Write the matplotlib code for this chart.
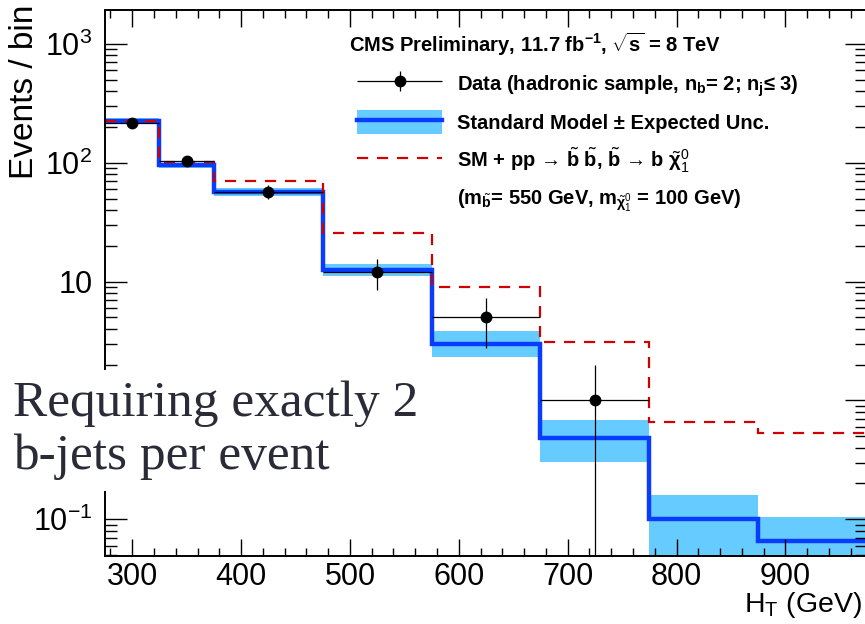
import numpy as np
import matplotlib
matplotlib.use('Agg')
import matplotlib.pyplot as plt
from matplotlib.ticker import FixedLocator, MultipleLocator, FuncFormatter, LogLocator
from matplotlib.lines import Line2D
from matplotlib.patches import Patch
from matplotlib.legend_handler import HandlerErrorbar
from matplotlib.container import ErrorbarContainer

plt.rcParams['font.family'] = ['Liberation Sans', 'DejaVu Sans']
plt.rcParams['mathtext.fontset'] = 'custom'
plt.rcParams['mathtext.rm'] = 'Liberation Sans'
plt.rcParams['mathtext.sf'] = 'Liberation Sans'
plt.rcParams['mathtext.it'] = 'Liberation Sans:bold'
plt.rcParams['mathtext.bf'] = 'Liberation Sans:bold'

# HT binning (GeV)
bin_edges = [275, 325, 375, 475, 575, 675, 775, 875, 975]

# Standard Model expectation and its uncertainty band
sm_pred = [225, 96, 56.5, 12.5, 3.0, 0.48, 0.10, 0.065]
sm_lo = [212, 90, 52, 11.1, 2.33, 0.305, 0.03, 0.03]
sm_hi = [236, 99, 61, 14.1, 3.84, 0.69, 0.16, 0.104]

# SM + sbottom pair production signal
sig_pred = [225, 102, 70, 25.5, 9.0, 3.1, 0.66, 0.53]

# observed data
data_x = [300, 350, 425, 525, 625, 725]
data_xerr = [25, 25, 50, 50, 50, 50]
data_y = [218, 104, 57, 12, 5, 1]
data_yerr = [14.8, 10.2, 7.5, 3.5, 2.24, 1.0]

fig = plt.figure(figsize=(8.65, 6.24), dpi=100)
ax = fig.add_axes([105 / 865, 1 - 556 / 624, 762 / 865, 546 / 624])

band_col = '#66ccff'
sm_col = '#0a3cff'
sig_col = '#d00000'

ax.stairs(sm_hi, bin_edges, baseline=sm_lo, fill=True, color=band_col, lw=0)
ax.stairs(sm_pred, bin_edges, baseline=None, color=sm_col, lw=3.2)
ax.stairs(sig_pred, bin_edges, baseline=None, color=sig_col, lw=1.6,
          linestyle=(0, (5, 4)))
eb = ax.errorbar(data_x, data_y, xerr=data_xerr, yerr=data_yerr, fmt='o',
                 color='black', ms=7.5, elinewidth=0.9, capsize=0, zorder=5)

ax.set_yscale('log')
ax.set_xlim(275, 975)
ax.set_ylim(0.049, 1930)

ax.xaxis.set_major_locator(MultipleLocator(100))
ax.xaxis.set_minor_locator(MultipleLocator(20))
ax.yaxis.set_major_locator(FixedLocator([0.1, 1, 10, 100, 1000]))
ax.yaxis.set_minor_locator(LogLocator(base=10, subs=np.arange(2, 10)))

# the label at 1 sits under the caption box, so it is left blank
ylabels = {0.1: '$10^{-1}$', 10: '10', 100: '$10^{2}$', 1000: '$10^{3}$'}
ax.yaxis.set_major_formatter(FuncFormatter(lambda v, p: ylabels.get(round(v, 3), '')))

ax.tick_params(axis='both', which='both', direction='in', top=True, right=True,
               width=1.0, labelsize=22)
ax.tick_params(axis='x', which='major', length=12, pad=4)
ax.tick_params(axis='x', which='minor', length=6)
ax.tick_params(axis='y', which='major', length=16, pad=9)
ax.tick_params(axis='y', which='minor', length=8.4)
for s in ax.spines.values():
    s.set_linewidth(1.4)

ax.set_xlabel(r'H$_\mathrm{T}$ (GeV)', fontsize=20.5, loc='right')
ax.xaxis.set_label_coords(0.993, -0.103)
ax.xaxis.label.set_va('baseline')
ax.set_ylabel('Events / bin', fontsize=24, loc='top')
ax.yaxis.set_label_coords(-0.085, 1.009)

handles = [
    eb,
    (Patch(facecolor=band_col, edgecolor='none'), Line2D([], [], color=sm_col, lw=3.2)),
    Line2D([], [], color=sig_col, lw=1.6, linestyle=(0, (5, 4))),
    Line2D([], [], color='none'),
]
labels = [
    r'Data (hadronic sample, $n_b$= 2; $n_j$≤ 3)',
    'Standard Model ± Expected Unc.',
    r'SM + pp → $\tilde{b}$ $\tilde{b}$, $\tilde{b}$ → b $\tilde{\chi}^0_1$',
    r'($m_{\tilde{b}}$= 550 GeV, $m_{\tilde{\chi}^0_1}$ = 100 GeV)',
]
leg = ax.legend(handles, labels, loc='upper left', bbox_to_anchor=(0.331, 0.962),
                frameon=False, prop={'weight': 'bold', 'size': 14.5},
                title=r'CMS Preliminary, 11.7 fb$^{\mathbf{-1}}$, $\sqrt{s}$ = 8 TeV',
                title_fontproperties={'weight': 'bold', 'size': 14.5},
                alignment='left', handlelength=4.2, handleheight=1.45,
                handletextpad=0.75, labelspacing=0.57, borderpad=0, borderaxespad=0,
                handler_map={ErrorbarContainer: HandlerErrorbar(xerr_size=2.1, yerr_size=0.5)})
leg._legend_box.sep = 10
leg.get_title().set_position((-8, 0))

fig.text(13 / 865, 1 - 469 / 624, 'Requiring exactly 2\nb-jets per event',
         family=['Liberation Serif', 'DejaVu Serif'], fontsize=37, color='#2b2b38',
         ha='left', va='baseline', linespacing=1.17,
         bbox=dict(facecolor='white', edgecolor='none', pad=8))

fig.savefig('out.png', dpi=100)
